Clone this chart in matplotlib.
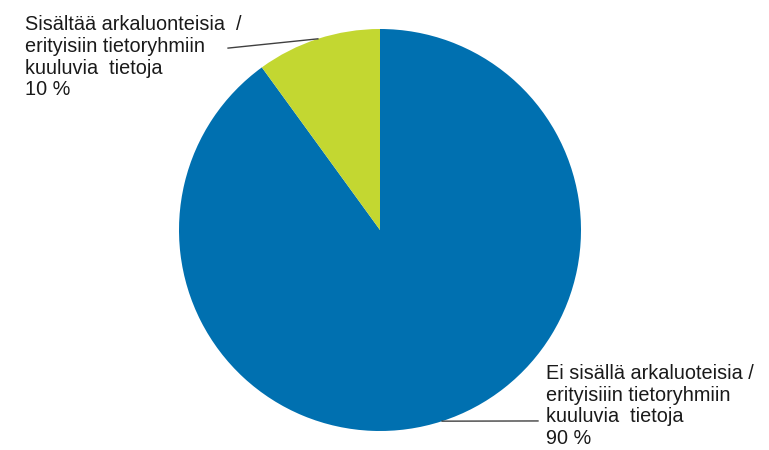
import numpy as np
import matplotlib
matplotlib.use('Agg')
import matplotlib.pyplot as plt

# data
labels = ['Ei sisällä arkaluoteisia /\nerityisiiin tietoryhmiin\nkuuluvia  tietoja\n90 %',
          'Sisältää arkaluonteisia  /\nerityisiin tietoryhmiin\nkuuluvia  tietoja\n10 %']
values = [90, 10]
colors = ['#0070B0', '#C3D731']

plt.rcParams['font.family'] = ['Liberation Sans', 'DejaVu Sans']

W, H = 769, 450
fig = plt.figure(figsize=(W / 100, H / 100), dpi=100)
# pie centre (380, 230) px, radius 201 px
ax = fig.add_axes([179 / W, (H - 431) / H, 402 / W, 402 / H])
wedges, _ = ax.pie(values, colors=colors, startangle=90, counterclock=False,
                   radius=1, wedgeprops=dict(linewidth=0))
ax.set_xlim(-1, 1)
ax.set_ylim(-1, 1)
ax.set_aspect('equal')
ax.axis('off')

# label positions (text anchor, leader end)
text_pos = [(0.826, -0.665), (-1.766, 1.07)]
line_end = [(0.786, -0.950), (-0.756, 0.905)]

for w, lab, tp, le in zip(wedges, labels, text_pos, line_end):
    mid = np.deg2rad((w.theta1 + w.theta2) / 2)
    x0, y0 = np.cos(mid), np.sin(mid)
    ax.plot([x0, le[0]], [y0, le[1]], color='#404040', lw=1, clip_on=False)
    ax.text(tp[0], tp[1], lab, ha='left', va='top', fontsize=14.3,
            linespacing=1.19, color='#1a1a1a', clip_on=False)

fig.savefig('out.png', dpi=100)
